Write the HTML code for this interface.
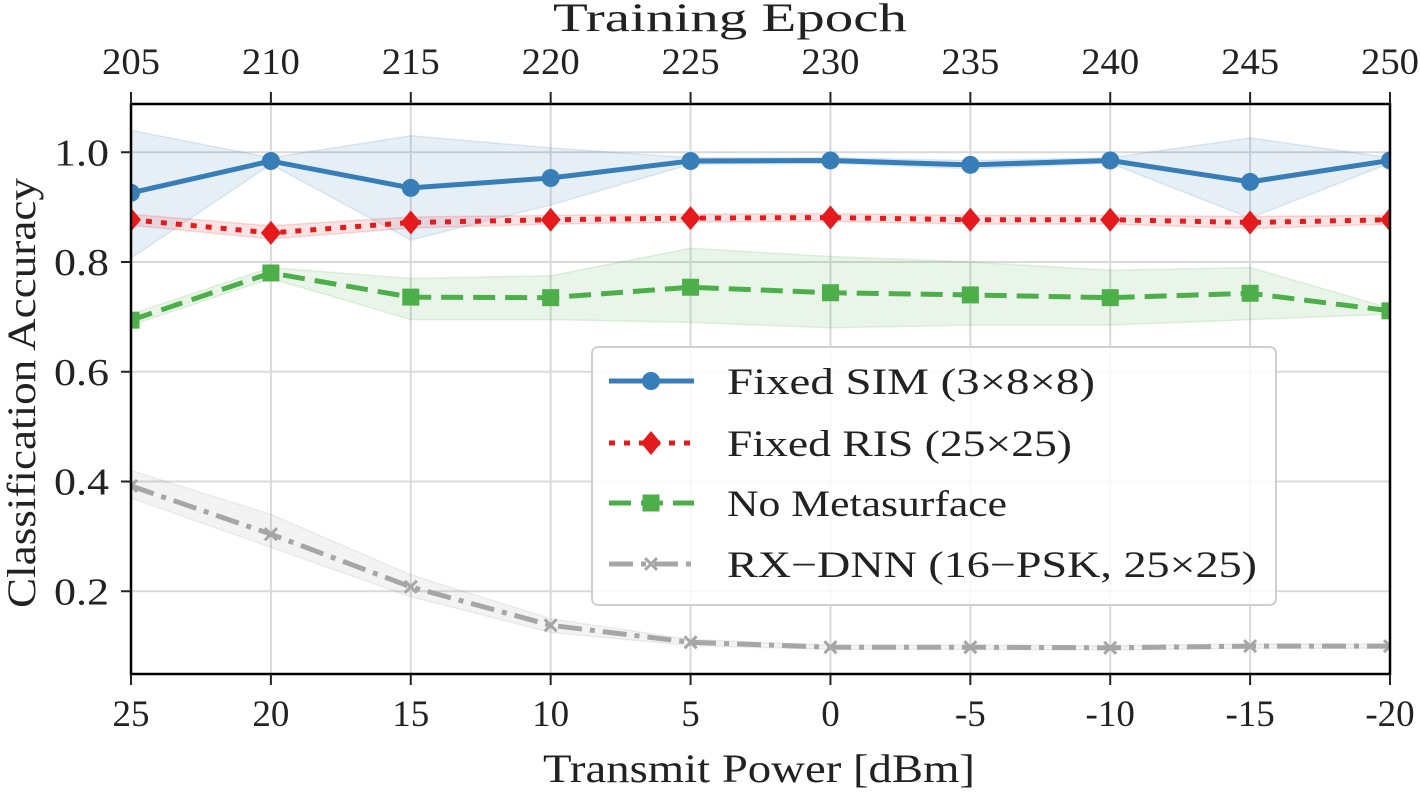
<!DOCTYPE html>
<html><head><meta charset="utf-8"><style>
html,body{margin:0;padding:0;background:#fff;}
svg{display:block;font-family:"Liberation Serif","DejaVu Serif",serif;}
</style></head><body>
<svg id="chart" width="1420" height="792"></svg>
<script>
const powerLabels=["25","20","15","10","5","0","-5","-10","-15","-20"];
const epochLabels=["205","210","215","220","225","230","235","240","245","250"];
const yTicks=[0.2,0.4,0.6,0.8,1.0];
const simVals=[0.926,0.984,0.935,0.953,0.984,0.985,0.977,0.985,0.946,0.985];
const simHi=[1.04,0.99,1.03,1.008,0.99,0.99,0.985,0.99,1.026,0.99];
const simLo=[0.807,0.978,0.84,0.904,0.978,0.98,0.97,0.98,0.88,0.98];
const risVals=[0.877,0.853,0.872,0.877,0.880,0.881,0.877,0.877,0.872,0.877];
const risHi=[0.887,0.866,0.882,0.885,0.887,0.888,0.885,0.885,0.883,0.885];
const risLo=[0.867,0.842,0.862,0.869,0.873,0.874,0.869,0.869,0.861,0.869];
const noVals=[0.694,0.780,0.736,0.735,0.754,0.744,0.740,0.735,0.743,0.711];
const noHi=[0.705,0.79,0.77,0.775,0.825,0.81,0.80,0.785,0.79,0.716];
const noLo=[0.685,0.77,0.695,0.695,0.69,0.68,0.685,0.685,0.695,0.705];
const rxVals=[0.392,0.304,0.208,0.138,0.107,0.098,0.098,0.097,0.100,0.100];
const rxHi=[0.42,0.34,0.23,0.15,0.112,0.102,0.102,0.101,0.104,0.104];
const rxLo=[0.37,0.28,0.19,0.125,0.101,0.094,0.094,0.093,0.096,0.096];

const NS="http://www.w3.org/2000/svg";
const svg=document.getElementById('chart');
const L=131,R=1390,T=104,B=674;
const X=i=>L+i*(R-L)/(powerLabels.length-1);
const Y=v=>701-v*548.75;
function mk(tag,attrs,parent){const e=document.createElementNS(NS,tag);for(const k in attrs)e.setAttribute(k,attrs[k]);(parent||svg).appendChild(e);return e;}
const grid=mk('g',{});


powerLabels.forEach((_,i)=>mk('line',{x1:X(i),x2:X(i),y1:T,y2:B,stroke:'#d9d9d9','stroke-width':2},grid));
yTicks.forEach(v=>mk('line',{x1:L,x2:R,y1:Y(v),y2:Y(v),stroke:'#d9d9d9','stroke-width':2},grid));
const clip=mk('clipPath',{id:'pc'});mk('rect',{x:L,y:T,width:R-L,height:B-T},clip);
const plot=mk('g',{'clip-path':'url(#pc)'});


function band(hi,lo,color,name){
  let d='M'+hi.map((v,i)=>X(i)+','+Y(v)).join('L')+'L'+lo.map((v,i)=>X(i)+','+Y(v)).reverse().join('L')+'Z';
  const p=mk('path',{d:d,fill:color,'fill-opacity':0.12,stroke:color,'stroke-opacity':0.15,'stroke-width':1.5},plot);
  
  
}
band(simHi,simLo,'#377eb8','sim-band');band(risHi,risLo,'#e41a1c','ris-band');
band(noHi,noLo,'#4daf4a','no-meta-band');band(rxHi,rxLo,'#999999','rx-band');
function marker(g,type,x,y,color){
  if(type==='o')mk('circle',{cx:x,cy:y,r:9,fill:color},g);
  else if(type==='d')mk('path',{d:`M${x},${y-12}L${x+10},${y}L${x},${y+12}L${x-10},${y}Z`,fill:color},g);
  else if(type==='s')mk('rect',{x:x-8.5,y:y-8.5,width:17,height:17,fill:color},g);
  else if(type==='x'){mk('path',{d:`M${x-6},${y-6}L${x+6},${y+6}M${x-6},${y+6}L${x+6},${y-6}`,stroke:color,'stroke-width':3},g);}
}
function series(vals,color,dash,type,name,parent){
  const g=mk('g',{},parent);
  
  
  mk('polyline',{points:vals.map((v,i)=>X(i)+','+Y(v)).join(' '),fill:'none',stroke:color,'stroke-width':5,'stroke-dasharray':dash,'stroke-linejoin':'round'},g);
  vals.forEach((v,i)=>marker(g,type,X(i),Y(v),color));
}
series(simVals,'#377eb8','none','o','sim-series',plot);
series(risVals,'#e41a1c','6 9','d','ris-series',plot);
series(noVals,'#4daf4a','22 10','s','no-meta-series',plot);
series(rxVals,'#a6a6a6','24 8 5 8','x','rx-series',plot);
const fr=mk('rect',{x:L,y:T,width:R-L,height:B-T,fill:'none',stroke:'#000','stroke-width':2.5});


powerLabels.forEach((t,i)=>{
  mk('line',{x1:X(i),x2:X(i),y1:B,y2:B+11,stroke:'#222','stroke-width':2});
  const tx=mk('text',{x:X(i),y:726,'font-size':37,'text-anchor':'middle',fill:'#222'});tx.textContent=t;
  
  
  mk('line',{x1:X(i),x2:X(i),y1:T,y2:T-12,stroke:'#222','stroke-width':2});
  const tt=mk('text',{x:X(i),y:74,'font-size':37,'text-anchor':'middle',fill:'#222',textLength:58,lengthAdjust:'spacingAndGlyphs'});tt.textContent=epochLabels[i];
  
  
});
yTicks.forEach(v=>{
  mk('line',{x1:L,x2:L-10,y1:Y(v),y2:Y(v),stroke:'#222','stroke-width':2});
  const t=mk('text',{x:109,y:Y(v)+13,'font-size':38,'text-anchor':'end',fill:'#222',textLength:55,lengthAdjust:'spacingAndGlyphs'});t.textContent=v.toFixed(1);
  
  
});
const xt=mk('text',{x:759,y:782,'font-size':40,'text-anchor':'middle',fill:'#222',textLength:432,lengthAdjust:'spacingAndGlyphs'});xt.textContent='Transmit Power [dBm]';


const tt2=mk('text',{x:730,y:31,'font-size':40,'text-anchor':'middle',fill:'#222',textLength:354,lengthAdjust:'spacingAndGlyphs'});tt2.textContent='Training Epoch';


const yt=mk('text',{x:0,y:0,'font-size':40,'text-anchor':'middle',fill:'#222',transform:'translate(35,393) rotate(-90)',textLength:430,lengthAdjust:'spacingAndGlyphs'});yt.textContent='Classification Accuracy';


const lg=mk('g',{});


mk('rect',{x:592,y:347,width:684,height:258,rx:6,fill:'#fff','fill-opacity':0.8,stroke:'#d0d0d0','stroke-width':2},lg);
const entries=[['Fixed SIM (3×8×8)','#377eb8','none','o',368],['Fixed RIS (25×25)','#e41a1c','6 9','d',345],['No Metasurface','#4daf4a','22 10','s',280],['RX−DNN (16−PSK, 25×25)','#a6a6a6','24 8 5 8','x',530]];
const ly=[381,443,503,564];
entries.forEach((e,k)=>{
  const g=mk('g',{},lg);
  
  
  mk('line',{x1:609,x2:694,y1:ly[k],y2:ly[k],stroke:e[1],'stroke-width':5,'stroke-dasharray':e[2]},g);
  marker(g,e[3],651,ly[k],e[1]);
  const t=mk('text',{x:727,y:ly[k]+13,'font-size':37,fill:'#222',textLength:e[4],lengthAdjust:'spacingAndGlyphs'},g);t.textContent=e[0];
});
</script>
</body></html>
